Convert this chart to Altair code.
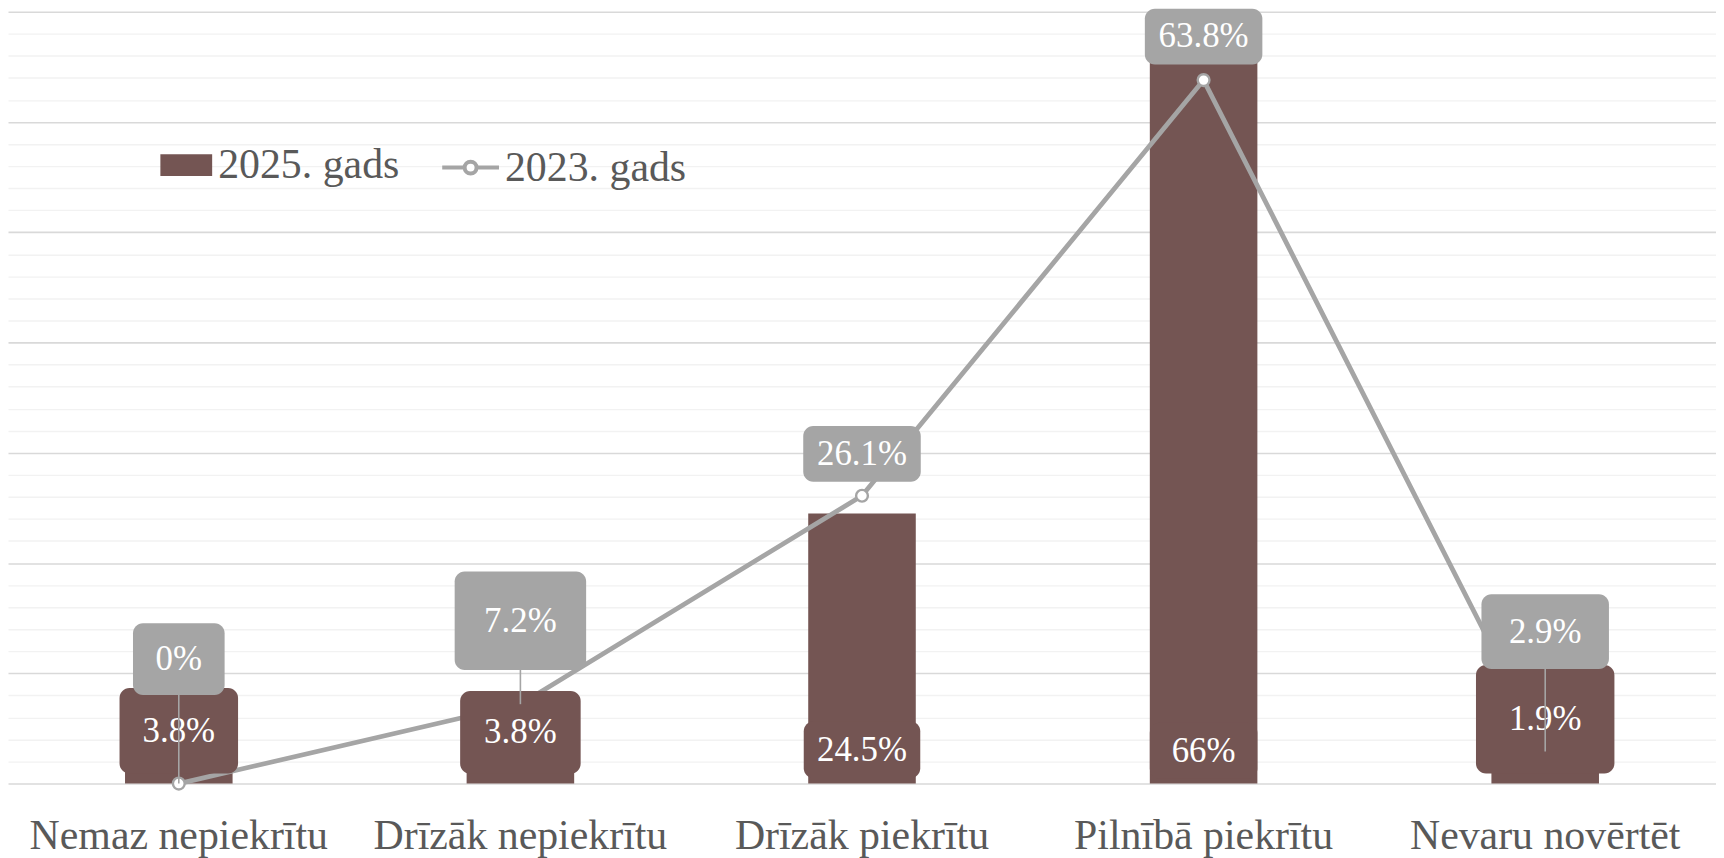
import altair as alt
import pandas as pd

# ---------------- data ----------------
categories = ["Nemaz nepiekrītu", "Drīzāk nepiekrītu", "Drīzāk piekrītu",
              "Pilnībā piekrītu", "Nevaru novērtēt"]
values_2025 = [3.8, 3.8, 24.5, 66.0, 1.9]
values_2023 = [0.0, 7.2, 26.1, 63.8, 2.9]
series_2025 = "2025. gads"
series_2023 = "2023. gads"

# ---------------- callout layout (style) ----------------
# label centre, in axis units; box width/height in px
callout_2025_center = [4.79, 4.65, 3.07, 2.98, 5.83]
callout_2025_box = [(119, 86), (121, 83), (117, 57), (108, 56), (139, 109)]
callout_2023_center = [11.29, 14.77, 29.90, 67.75, 13.78]
callout_2023_box = [(92, 72), (132, 99), (118, 56), (118, 56), (128, 75)]

FONT = "Liberation Serif"
BROWN = "#745553"
GRAY = "#A5A5A5"
TEXT = "#595959"

W, H = 1715, 775
Y_MAX = 70
PPU = H / Y_MAX


def fmt(v):
    return f"{v:g}%"


df_bar = pd.DataFrame({"cat": categories, "v": values_2025, "series": series_2025})
df_line = pd.DataFrame({"cat": categories, "v": values_2023, "series": series_2023})

rows25 = []
for c, v, cen, (bw, bh) in zip(categories, values_2025, callout_2025_center, callout_2025_box):
    rows25.append({"cat": c, "c": cen, "lo": cen - bh / 2 / PPU, "hi": cen + bh / 2 / PPU,
                   "w": bw, "label": fmt(v)})
df_c25 = pd.DataFrame(rows25)

rows23 = []
leaders = []
for c, v, cen, (bw, bh) in zip(categories, values_2023, callout_2023_center, callout_2023_box):
    lo = cen - bh / 2 / PPU
    rows23.append({"cat": c, "c": cen, "lo": lo, "hi": cen + bh / 2 / PPU,
                   "w": bw, "label": fmt(v)})
    if (lo - v) * PPU > 25:
        leaders.append({"cat": c, "top": lo, "v": v})
df_c23 = pd.DataFrame(rows23)
df_lead = pd.DataFrame(leaders)

xscale = alt.Scale(domain=categories, paddingInner=0, paddingOuter=0)
yscale = alt.Scale(domain=[0, Y_MAX], nice=False, zero=True)

x_axis = alt.Axis(title=None, labelFontSize=42, labelFont=FONT, labelColor=TEXT,
                  ticks=False, tickSize=0, domain=False, labelPadding=65,
                  labelBaseline="alphabetic", labelAngle=0, grid=False,
                  labelOverlap=False, labelLimit=500)
y_axis = alt.Axis(title=None, values=list(range(0, Y_MAX + 1, 2)), labels=False,
                  ticks=False, domain=False, grid=True,
                  gridColor={"condition": {"test": "datum.value % 10 === 0", "value": "#D9D9D9"},
                             "value": "#F2F2F2"},
                  gridWidth={"condition": {"test": "datum.value % 10 === 0", "value": 1.6},
                             "value": 1.4})


def X():
    return alt.X("cat:N", sort=categories, scale=xscale, axis=x_axis, title=None)


def Y(field):
    return alt.Y(field, scale=yscale, axis=y_axis, title=None)


bars = alt.Chart(df_bar).mark_bar(size=108).encode(
    x=X(),
    y=Y("v:Q"),
    color=alt.Color("series:N", scale=alt.Scale(domain=[series_2025], range=[BROWN]),
                    legend=alt.Legend(orient="none", legendX=153, legendY=128, title=None,
                                      symbolType="M-1,-0.42H1V0.42H-1Z", symbolSize=2704,
                                      symbolStrokeWidth=0, labelFontSize=42, labelFont=FONT,
                                      labelColor=TEXT, labelOffset=6, padding=0,
                                      labelLimit=600)),
)

line = alt.Chart(df_line).mark_line(strokeWidth=4.8).encode(
    x=X(),
    y=Y("v:Q"),
    stroke=alt.Stroke("series:N", scale=alt.Scale(domain=[series_2023], range=[GRAY]),
                      legend=alt.Legend(orient="none", legendX=434, legendY=126, title=None,
                                        symbolType="M-1,0H-0.21M0.21,0H1M0.21,0A0.21,0.21 0 1 1 -0.21,0A0.21,0.21 0 1 1 0.21,0Z",
                                        symbolSize=3249, symbolStrokeWidth=4,
                                        symbolFillColor="white", labelFontSize=42,
                                        labelFont=FONT, labelColor=TEXT, labelOffset=4,
                                        padding=0, labelLimit=600)),
)

points = alt.Chart(df_line).mark_point(filled=True, fill="white", stroke=GRAY,
                                       strokeWidth=2.4, size=140, opacity=1).encode(
    x=X(),
    y=Y("v:Q"),
)

box25 = alt.Chart(df_c25).mark_bar(cornerRadius=10, color=BROWN).encode(
    x=X(),
    y=Y("lo:Q"),
    y2="hi:Q",
    size=alt.Size("w:Q", scale=None, legend=None),
)
text25 = alt.Chart(df_c25).mark_text(font=FONT, fontSize=35, color="white",
                                     baseline="middle", align="center").encode(
    x=X(),
    y=Y("c:Q"),
    text="label:N",
)

box23 = alt.Chart(df_c23).mark_bar(cornerRadius=10, color=GRAY).encode(
    x=X(),
    y=Y("lo:Q"),
    y2="hi:Q",
    size=alt.Size("w:Q", scale=None, legend=None),
)
text23 = alt.Chart(df_c23).mark_text(font=FONT, fontSize=35, color="white",
                                     baseline="middle", align="center").encode(
    x=X(),
    y=Y("c:Q"),
    text="label:N",
)

lead = alt.Chart(df_lead).mark_rule(color=GRAY, strokeWidth=1.6).encode(
    x=X(),
    y=Y("top:Q"),
    y2="v:Q",
)

chart = alt.layer(bars, line, points, box25, text25, lead, box23, text23).properties(
    width=W, height=H,
    padding={"left": 0, "top": 2, "right": 0, "bottom": 76},
    autosize="none",
    background="white",
).configure_view(stroke=None).resolve_scale(size="independent")

chart.save("out.html", embed_options={"renderer": "svg", "actions": False})
